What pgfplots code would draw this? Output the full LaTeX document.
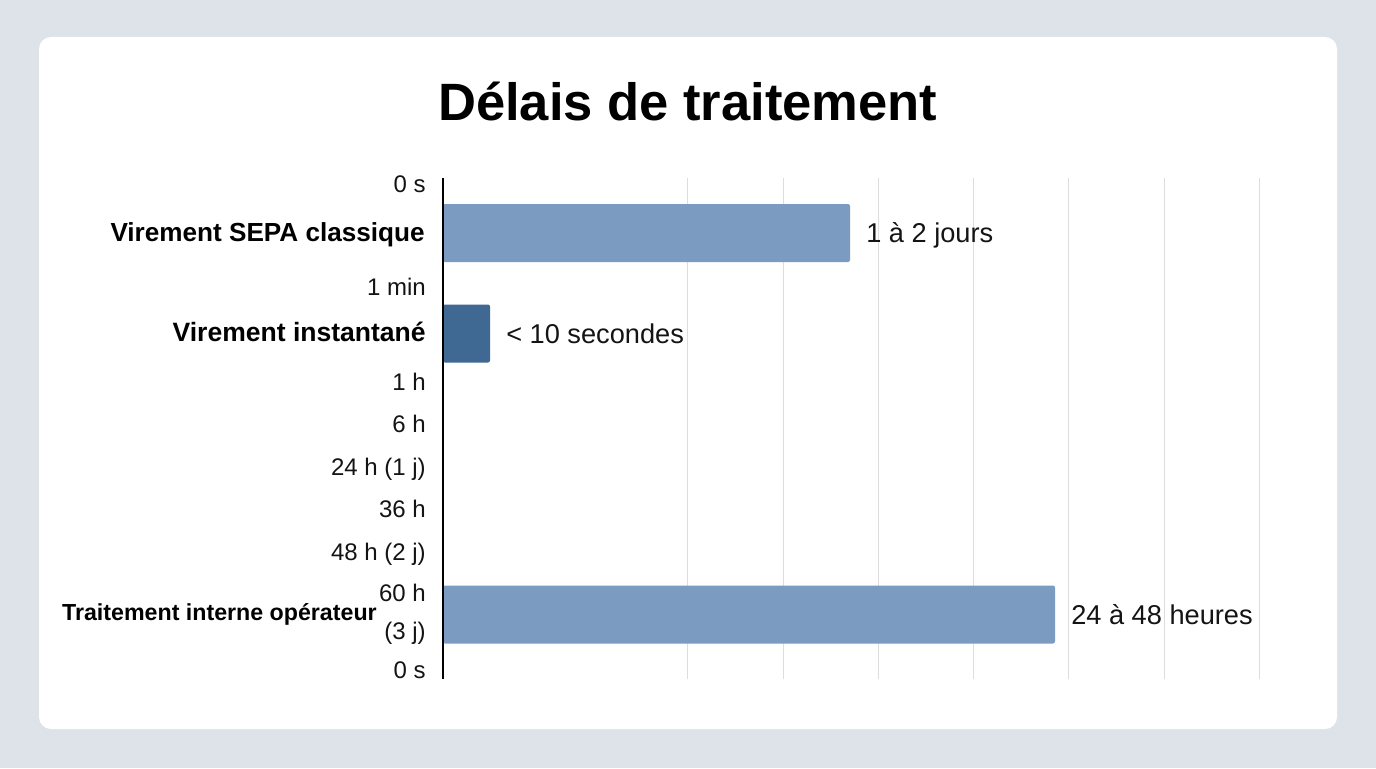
\documentclass[border=0pt]{standalone}
\usepackage{fontspec}
\setmainfont{Liberation Sans}
\usepackage{pgfplots}
\pgfplotsset{compat=1.18}
\definecolor{pagebg}{HTML}{DEE3EA}
\definecolor{barlight}{HTML}{7C9BC0}
\definecolor{bardark}{HTML}{3F6893}
\definecolor{gridc}{HTML}{DDDDDD}
\definecolor{txt}{HTML}{141414}
\begin{document}
\begin{tikzpicture}
\fill[pagebg] (0,0) rectangle (1032pt,576pt);
\fill[white,rounded corners=9pt] (29.25pt,29.25pt) rectangle (1002.75pt,548.25pt);
\begin{axis}[
  at={(332.25pt,66.75pt)}, anchor=south west,
  scale only axis, width=612pt, height=375.75pt,
  xmin=0, xmax=816, ymin=178, ymax=679, y dir=reverse,
  clip=false,
  axis line style={draw=none},
  xtick={244,340,435,530,625,721,816}, xticklabels={},
  xmajorgrids, grid style={gridc,line width=0.75pt},
  major tick length=0pt,
  ytick={184,233,287,333,382,424,467,509,552,593,612,631,670},
  yticklabels={{0 s},{\fontsize{19.6pt}{22pt}\selectfont\bfseries\color{black}Virement SEPA classique\rule{0.75pt}{0pt}},{1 min},{\fontsize{19.9pt}{22pt}\selectfont\bfseries\color{black}Virement instantané},{1 h},{6 h},{24 h (1 j)},{36 h},{48 h (2 j)},{60 h},{\fontsize{17.4pt}{20pt}\selectfont\bfseries\color{black}Traitement interne opérateur\rule{36.75pt}{0pt}},{(3 j)},{0 s}},
  yticklabel style={anchor=east,inner sep=0pt,xshift=-12.75pt,font=\fontsize{18pt}{20pt}\selectfont,text=txt,text height=15.5pt,text depth=3pt},
  title={\bfseries Délais de traitement},
  title style={at={(axis description cs:0.3,1.137)},anchor=center,inner sep=0pt,font=\fontsize{39.4pt}{46pt}\selectfont,text=black},
  xbar, bar shift=0pt, bar width=43.5pt,
  point meta=explicit symbolic,
  nodes near coords,
  nodes near coords style={anchor=west,inner sep=0pt,xshift=12pt,font=\fontsize{20.4pt}{22pt}\selectfont,text=txt,text height=17.5pt,text depth=3pt},
]
\addplot[fill=barlight,draw=none,rounded corners=1.5pt] coordinates {(407,233)[1 à 2 jours] (612,614.5)[24 à 48 heures]};
\addplot[fill=bardark,draw=none,rounded corners=1.5pt] coordinates {(47,333.5)[< 10 secondes]};
\draw[black,line width=1.6pt] (axis cs:0,178) -- (axis cs:0,679);
\end{axis}
\end{tikzpicture}
\end{document}
